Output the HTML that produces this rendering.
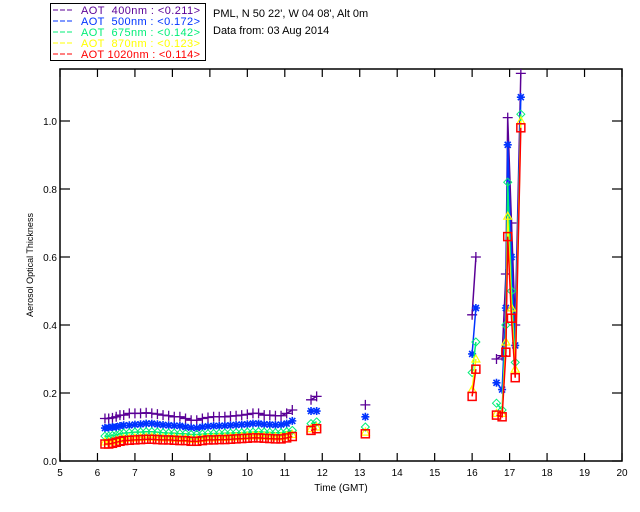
<!DOCTYPE html>
<html><head><meta charset="utf-8">
<style>
body{margin:0;background:#fff;}
svg{display:block;font-family:"Liberation Sans",sans-serif;}
</style></head>
<body>
<svg id="chart" width="640" height="512" viewBox="0 0 640 512" xmlns="http://www.w3.org/2000/svg">
<rect x="0" y="0" width="640" height="512" fill="#fff"/>
<g>
<rect x="50.5" y="3.5" width="155" height="57" fill="none" stroke="#000" stroke-width="1"/>
</g>
<text x="213" y="17" font-size="11" fill="#000">PML, N 50 22', W 04 08', Alt 0m</text>
<text x="213" y="34" font-size="11" fill="#000">Data from: 03 Aug 2014</text>
<text x="341" y="491" font-size="10" text-anchor="middle">Time (GMT)</text>
<text x="33" y="265" font-size="9" text-anchor="middle" transform="rotate(-90 33 265)">Aerosol Optical Thickness</text>
<g id="axes"></g>
<g id="series"></g>
</svg>
<script>
const times=[6.2,6.3,6.4,6.5,6.6,6.7,6.85,7.0,7.15,7.3,7.45,7.6,7.75,7.9,8.05,8.2,8.35,8.5,8.65,8.8,8.95,9.1,9.25,9.4,9.55,9.7,9.85,10.0,10.15,10.3,10.45,10.6,10.75,10.9,11.05,11.2, 11.7,11.85, 13.15, 16.0,16.1, 16.65,16.8,16.9,16.95,17.05,17.15,17.3];
const segments=[0,0,0,0,0,0,0,0,0,0,0,0,0,0,0,0,0,0,0,0,0,0,0,0,0,0,0,0,0,0,0,0,0,0,0,0, 1,1, 2, 3,3, 4,4,4,4,4,4,4];
const aot400=[0.125,0.125,0.127,0.13,0.135,0.135,0.14,0.14,0.14,0.142,0.14,0.138,0.135,0.133,0.13,0.13,0.125,0.12,0.12,0.125,0.128,0.13,0.13,0.13,0.132,0.133,0.135,0.137,0.14,0.14,0.135,0.135,0.133,0.133,0.14,0.15, 0.18,0.19, 0.165, 0.43,0.60, 0.30,0.31,0.55,1.01,0.70,0.40,1.14];
const aot500=[0.097,0.098,0.1,0.1,0.103,0.105,0.105,0.107,0.108,0.11,0.11,0.108,0.106,0.105,0.104,0.103,0.1,0.098,0.097,0.1,0.102,0.103,0.103,0.104,0.105,0.106,0.107,0.108,0.11,0.11,0.108,0.107,0.106,0.107,0.11,0.118, 0.147,0.147, 0.13, 0.315,0.45, 0.23,0.21,0.45,0.93,0.6,0.34,1.07];
const aot675=[0.073,0.073,0.075,0.076,0.08,0.082,0.083,0.085,0.085,0.086,0.086,0.085,0.083,0.082,0.082,0.08,0.08,0.078,0.078,0.079,0.08,0.081,0.081,0.082,0.082,0.083,0.083,0.085,0.085,0.086,0.085,0.084,0.083,0.083,0.086,0.09, 0.11,0.115, 0.10, 0.26,0.35, 0.17,0.15,0.4,0.82,0.5,0.29,1.02];
const aot870=[0.056,0.056,0.058,0.061,0.064,0.066,0.067,0.068,0.069,0.07,0.07,0.069,0.068,0.068,0.067,0.066,0.066,0.064,0.064,0.066,0.068,0.068,0.069,0.069,0.07,0.071,0.072,0.073,0.074,0.074,0.073,0.072,0.071,0.071,0.074,0.078, 0.095,0.1, 0.085, 0.21,0.30, 0.14,0.14,0.35,0.72,0.45,0.27,1.0];
const aot1020=[0.05,0.05,0.052,0.055,0.058,0.06,0.061,0.062,0.063,0.064,0.064,0.063,0.062,0.062,0.061,0.06,0.06,0.058,0.058,0.06,0.062,0.062,0.063,0.063,0.064,0.065,0.066,0.067,0.068,0.068,0.067,0.066,0.065,0.065,0.068,0.072, 0.09,0.095, 0.08, 0.19,0.27, 0.135,0.13,0.32,0.66,0.42,0.245,0.98];
const xTicks=[5,6,7,8,9,10,11,12,13,14,15,16,17,18,19,20];
const yTicks=[0.0,0.2,0.4,0.6,0.8,1.0];
const legendLabels=["AOT  400nm : <0.211>","AOT  500nm : <0.172>","AOT  675nm : <0.142>","AOT  870nm : <0.123>","AOT 1020nm : <0.114>"];

const NS="http://www.w3.org/2000/svg";
const L=60,R=622,T=69,B=461;
const xs=t=>L+(t-5)*(R-L)/15;
const ys=v=>B-v*340;
function mk(tag,at,parent){const e=document.createElementNS(NS,tag);for(const k in at)e.setAttribute(k,at[k]);parent.appendChild(e);return e;}
const svg=document.getElementById('chart');
const axes=document.getElementById('axes');
const frame=mk('rect',{x:L,y:T,width:R-L,height:B-T,fill:'none',stroke:'#000','stroke-width':1.5},axes);


xTicks.forEach(t=>{
  const x=xs(t);
  const a=mk('line',{x1:x,y1:B,x2:x,y2:B-8,stroke:'#000','stroke-width':1.2},axes);
  
  
  mk('line',{x1:x,y1:T,x2:x,y2:T+8,stroke:'#000','stroke-width':1.2},axes);
  const tx=mk('text',{x:x,y:B+15,'font-size':10,'text-anchor':'middle'},axes);
  tx.textContent=t;
  
  
});
yTicks.forEach(v=>{
  const y=ys(v);
  const a=mk('line',{x1:L,y1:y,x2:L+10,y2:y,stroke:'#000','stroke-width':1.2},axes);
  
  
  mk('line',{x1:R,y1:y,x2:R-10,y2:y,stroke:'#000','stroke-width':1.2},axes);
  const tx=mk('text',{x:L-3,y:y+4,'font-size':10,'text-anchor':'end'},axes);
  tx.textContent=v.toFixed(1);
  
  
});
const defs=mk('defs',{},svg);
const cp=mk('clipPath',{id:'clip'},defs);
mk('rect',{x:L,y:T,width:R-L,height:B-T},cp);
const sg=document.getElementById('series');
sg.setAttribute('clip-path','url(#clip)');
const series=[
 {name:'aot-400nm',vals:aot400,color:'#5a0096',m:'plus'},
 {name:'aot-500nm',vals:aot500,color:'#0033ff',m:'star'},
 {name:'aot-675nm',vals:aot675,color:'#00ee77',m:'diamond'},
 {name:'aot-870nm',vals:aot870,color:'#ffff00',m:'triangle'},
 {name:'aot-1020nm',vals:aot1020,color:'#ff0000',m:'square'}
];
function marker(g,type,x,y,c){
  let e;
  if(type==='plus'){e=mk('path',{d:`M${x-5},${y}H${x+5}M${x},${y-5}V${y+5}`,stroke:c,'stroke-width':1.3,fill:'none'},g);}
  else if(type==='star'){e=mk('path',{d:`M${x-4},${y}H${x+4}M${x},${y-4}V${y+4}M${x-3},${y-3}L${x+3},${y+3}M${x-3},${y+3}L${x+3},${y-3}`,stroke:c,'stroke-width':1.6,fill:'none'},g);}
  else if(type==='diamond'){e=mk('path',{d:`M${x},${y-4}L${x+4},${y}L${x},${y+4}L${x-4},${y}Z`,stroke:c,'stroke-width':1,fill:'none'},g);}
  else if(type==='triangle'){e=mk('path',{d:`M${x},${y-4}L${x+4},${y+3}L${x-4},${y+3}Z`,stroke:c,'stroke-width':1.2,fill:'none'},g);}
  else {e=mk('rect',{x:x-4,y:y-4,width:8,height:8,stroke:c,'stroke-width':1.5,fill:'none'},g);}
  
  
}
series.forEach((s,si)=>{
  const g=mk('g',{},sg);
  
  
  let d='';
  for(let i=0;i<times.length;i++){
    const cmd=(i===0||segments[i]!==segments[i-1])?'M':'L';
    d+=cmd+xs(times[i]).toFixed(1)+','+ys(s.vals[i]).toFixed(1);
  }
  const p=mk('path',{d:d,stroke:s.color,'stroke-width':1.5,fill:'none'},g);
  
  
  for(let i=0;i<times.length;i++) marker(g,s.m,xs(times[i]),ys(s.vals[i]),s.color);
  const ly=10+si*11;
  const le=mk('g',{},svg);
  
  
  mk('line',{x1:53,y1:ly,x2:73,y2:ly,stroke:s.color,'stroke-width':1,'stroke-dasharray':'5,2'},le);
  const t=mk('text',{x:81,y:ly+4,'font-size':11,fill:s.color,textLength:119,lengthAdjust:'spacing'},le);
  t.setAttribute('style','white-space:pre');
  t.textContent=legendLabels[si];
});
</script>
</body></html>
